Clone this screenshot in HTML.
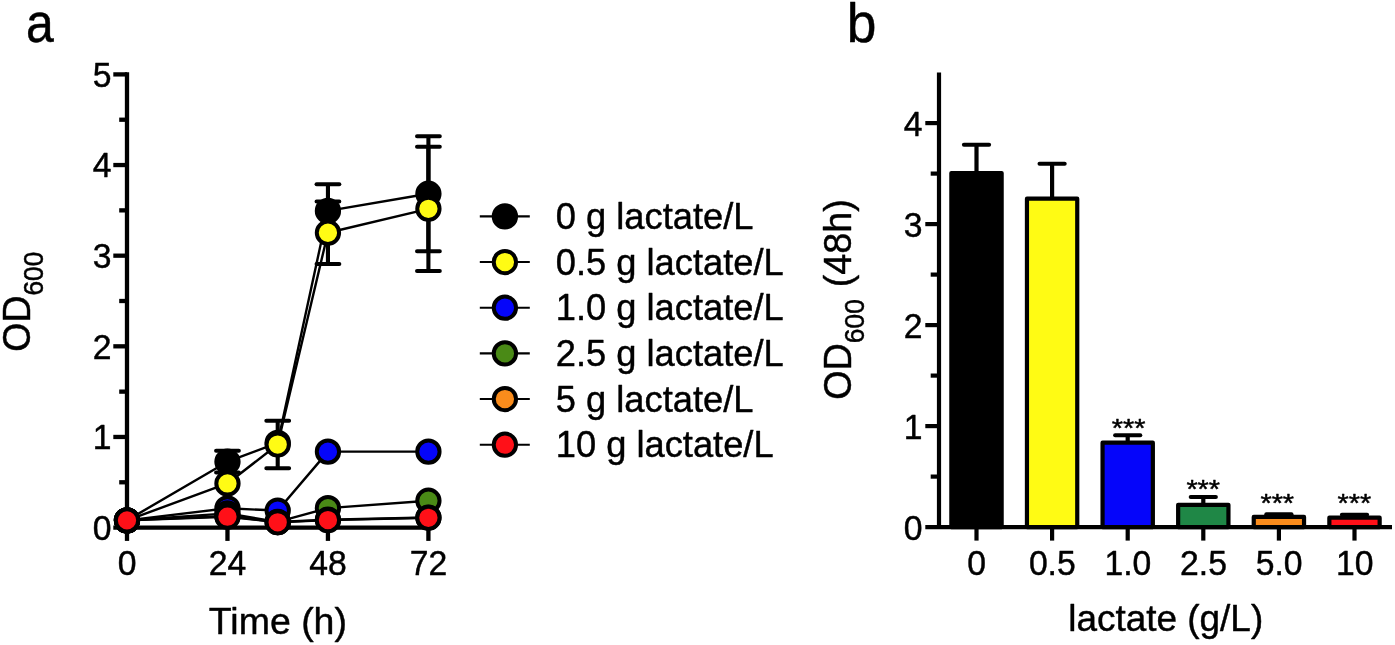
<!DOCTYPE html>
<html lang="en"><head><meta charset="utf-8"><title>Figure</title>
<style>html,body{margin:0;padding:0;background:#fff;}body{width:1395px;height:645px;overflow:hidden;}svg{display:block;}text{stroke:#000;stroke-width:.45px;stroke-linejoin:round;}</style>
</head><body>
<svg width="1395" height="645" viewBox="0 0 1395 645" font-family='"Liberation Sans", Arial, Helvetica, sans-serif' fill="#000">
<rect width="1395" height="645" fill="#fff"/>
<text transform="translate(25.90 42.20) scale(0.9 1)" font-size="55.5" text-anchor="start">a</text>
<text transform="translate(846.70 42.10) scale(0.96 1)" font-size="55.5" text-anchor="start">b</text>
<g stroke="#000" stroke-width="4.3" fill="none" stroke-linecap="butt">
<path d="M127.00 72.25V529.75"/>
<path d="M113.30 527.60H430.56"/>
<path d="M119.2 482.28H127.00"/>
<path d="M113.3 436.96H127.00"/>
<path d="M119.2 391.64H127.00"/>
<path d="M113.3 346.32H127.00"/>
<path d="M119.2 301.00H127.00"/>
<path d="M113.3 255.68H127.00"/>
<path d="M119.2 210.36H127.00"/>
<path d="M113.3 165.04H127.00"/>
<path d="M119.2 119.72H127.00"/>
<path d="M113.3 74.40H127.00"/>
<path d="M127.00 527.60V540.9"/>
<path d="M227.47 527.60V540.9"/>
<path d="M327.94 527.60V540.9"/>
<path d="M428.41 527.60V540.9"/>
</g>
<text transform="translate(111.40 540.00) scale(0.963 1)" font-size="35" text-anchor="end">0</text>
<text transform="translate(111.40 449.36) scale(0.963 1)" font-size="35" text-anchor="end">1</text>
<text transform="translate(111.40 358.72) scale(0.963 1)" font-size="35" text-anchor="end">2</text>
<text transform="translate(111.40 268.08) scale(0.963 1)" font-size="35" text-anchor="end">3</text>
<text transform="translate(111.40 177.44) scale(0.963 1)" font-size="35" text-anchor="end">4</text>
<text transform="translate(111.40 86.80) scale(0.963 1)" font-size="35" text-anchor="end">5</text>
<text transform="translate(127.10 574.70) scale(0.963 1)" font-size="35" text-anchor="middle">0</text>
<text transform="translate(227.57 574.70) scale(0.963 1)" font-size="35" text-anchor="middle">24</text>
<text transform="translate(328.04 574.70) scale(0.963 1)" font-size="35" text-anchor="middle">48</text>
<text transform="translate(428.51 574.70) scale(0.963 1)" font-size="35" text-anchor="middle">72</text>
<text transform="translate(277.90 633.80) scale(0.992 1)" font-size="37.8" text-anchor="middle">Time (h)</text>
<text transform="translate(29.90 301.70) rotate(-90) scale(0.962 1)" font-size="39" text-anchor="middle">OD<tspan font-size="27.3" dy="13">600</tspan></text>
<g stroke="#000">
<path d="M227.47 450.83V472.58" stroke-width="4.1" fill="none"/>
<path d="M216.07 450.83h22.8M216.07 472.58h22.8" stroke-width="4" stroke-linecap="round" fill="none"/>
<path d="M327.94 184.35V210.90" stroke-width="4.1" fill="none"/>
<path d="M316.54 184.35h22.8" stroke-width="4" stroke-linecap="round" fill="none"/>
<path d="M428.41 136.31V251.24" stroke-width="4.1" fill="none"/>
<path d="M417.01 136.31h22.8M417.01 251.24h22.8" stroke-width="4" stroke-linecap="round" fill="none"/>
<polyline points="127.00,520.35 227.47,461.70 277.71,442.85 327.94,210.90 428.41,193.77" fill="none" stroke-width="2.4" stroke-linejoin="round"/>
<circle cx="127.00" cy="520.35" r="11.15" fill="#000000" stroke-width="4.0"/>
<circle cx="227.47" cy="461.70" r="11.15" fill="#000000" stroke-width="4.0"/>
<circle cx="277.71" cy="442.85" r="11.15" fill="#000000" stroke-width="4.0"/>
<circle cx="327.94" cy="210.90" r="11.15" fill="#000000" stroke-width="4.0"/>
<circle cx="428.41" cy="193.77" r="11.15" fill="#000000" stroke-width="4.0"/>
</g>
<g stroke="#000">
<path d="M277.71 420.83V468.32" stroke-width="4.1" fill="none"/>
<path d="M266.31 420.83h22.8M266.31 468.32h22.8" stroke-width="4" stroke-linecap="round" fill="none"/>
<path d="M327.94 201.48V264.02" stroke-width="4.1" fill="none"/>
<path d="M316.54 201.48h22.8M316.54 264.02h22.8" stroke-width="4" stroke-linecap="round" fill="none"/>
<path d="M428.41 146.73V270.91" stroke-width="4.1" fill="none"/>
<path d="M417.01 146.73h22.8M417.01 270.91h22.8" stroke-width="4" stroke-linecap="round" fill="none"/>
<polyline points="127.00,520.35 227.47,483.46 277.71,444.57 327.94,232.75 428.41,208.82" fill="none" stroke-width="2.4" stroke-linejoin="round"/>
<circle cx="127.00" cy="520.35" r="11.15" fill="#FFFB14" stroke-width="4.0"/>
<circle cx="227.47" cy="483.46" r="11.15" fill="#FFFB14" stroke-width="4.0"/>
<circle cx="277.71" cy="444.57" r="11.15" fill="#FFFB14" stroke-width="4.0"/>
<circle cx="327.94" cy="232.75" r="11.15" fill="#FFFB14" stroke-width="4.0"/>
<circle cx="428.41" cy="208.82" r="11.15" fill="#FFFB14" stroke-width="4.0"/>
</g>
<g stroke="#000">
<polyline points="127.00,520.35 227.47,508.29 277.71,510.56 327.94,451.64 428.41,451.64" fill="none" stroke-width="2.4" stroke-linejoin="round"/>
<circle cx="127.00" cy="520.35" r="11.15" fill="#0505FA" stroke-width="4.0"/>
<circle cx="227.47" cy="508.29" r="11.15" fill="#0505FA" stroke-width="4.0"/>
<circle cx="277.71" cy="510.56" r="11.15" fill="#0505FA" stroke-width="4.0"/>
<circle cx="327.94" cy="451.64" r="11.15" fill="#0505FA" stroke-width="4.0"/>
<circle cx="428.41" cy="451.64" r="11.15" fill="#0505FA" stroke-width="4.0"/>
</g>
<g stroke="#000">
<polyline points="127.00,520.35 227.47,513.37 277.71,521.89 327.94,508.11 428.41,500.77" fill="none" stroke-width="2.4" stroke-linejoin="round"/>
<circle cx="127.00" cy="520.35" r="11.15" fill="#4A8A16" stroke-width="4.0"/>
<circle cx="227.47" cy="513.37" r="11.15" fill="#4A8A16" stroke-width="4.0"/>
<circle cx="277.71" cy="521.89" r="11.15" fill="#4A8A16" stroke-width="4.0"/>
<circle cx="327.94" cy="508.11" r="11.15" fill="#4A8A16" stroke-width="4.0"/>
<circle cx="428.41" cy="500.77" r="11.15" fill="#4A8A16" stroke-width="4.0"/>
</g>
<g stroke="#000">
<polyline points="127.00,520.35 227.47,516.00 277.71,522.07 327.94,519.71 428.41,517.54" fill="none" stroke-width="2.4" stroke-linejoin="round"/>
<circle cx="127.00" cy="520.35" r="11.15" fill="#FA8C1C" stroke-width="4.0"/>
<circle cx="227.47" cy="516.00" r="11.15" fill="#FA8C1C" stroke-width="4.0"/>
<circle cx="277.71" cy="522.07" r="11.15" fill="#FA8C1C" stroke-width="4.0"/>
<circle cx="327.94" cy="519.71" r="11.15" fill="#FA8C1C" stroke-width="4.0"/>
<circle cx="428.41" cy="517.54" r="11.15" fill="#FA8C1C" stroke-width="4.0"/>
</g>
<g stroke="#000">
<polyline points="127.00,520.35 227.47,516.72 277.71,522.29 327.94,520.08 428.41,517.81" fill="none" stroke-width="2.4" stroke-linejoin="round"/>
<circle cx="127.00" cy="520.35" r="11.15" fill="#FF1018" stroke-width="4.0"/>
<circle cx="227.47" cy="516.72" r="11.15" fill="#FF1018" stroke-width="4.0"/>
<circle cx="277.71" cy="522.29" r="11.15" fill="#FF1018" stroke-width="4.0"/>
<circle cx="327.94" cy="520.08" r="11.15" fill="#FF1018" stroke-width="4.0"/>
<circle cx="428.41" cy="517.81" r="11.15" fill="#FF1018" stroke-width="4.0"/>
</g>
<path d="M479.8 216.40H529.8" stroke="#000" stroke-width="2.1" fill="none"/>
<circle cx="504.9" cy="216.40" r="11.15" fill="#000000" stroke="#000" stroke-width="4.0"/>
<text transform="translate(555.80 229.00) scale(0.986 1)" font-size="36.8" text-anchor="start">0 g lactate/L</text>
<path d="M479.8 262.06H529.8" stroke="#000" stroke-width="2.1" fill="none"/>
<circle cx="504.9" cy="262.06" r="11.15" fill="#FFFB14" stroke="#000" stroke-width="4.0"/>
<text transform="translate(555.80 274.66) scale(0.986 1)" font-size="36.8" text-anchor="start">0.5 g lactate/L</text>
<path d="M479.8 307.72H529.8" stroke="#000" stroke-width="2.1" fill="none"/>
<circle cx="504.9" cy="307.72" r="11.15" fill="#0505FA" stroke="#000" stroke-width="4.0"/>
<text transform="translate(555.80 320.32) scale(0.986 1)" font-size="36.8" text-anchor="start">1.0 g lactate/L</text>
<path d="M479.8 353.38H529.8" stroke="#000" stroke-width="2.1" fill="none"/>
<circle cx="504.9" cy="353.38" r="11.15" fill="#4A8A16" stroke="#000" stroke-width="4.0"/>
<text transform="translate(555.80 365.98) scale(0.986 1)" font-size="36.8" text-anchor="start">2.5 g lactate/L</text>
<path d="M479.8 399.04H529.8" stroke="#000" stroke-width="2.1" fill="none"/>
<circle cx="504.9" cy="399.04" r="11.15" fill="#FA8C1C" stroke="#000" stroke-width="4.0"/>
<text transform="translate(555.80 411.64) scale(0.986 1)" font-size="36.8" text-anchor="start">5 g lactate/L</text>
<path d="M479.8 444.70H529.8" stroke="#000" stroke-width="2.1" fill="none"/>
<circle cx="504.9" cy="444.70" r="11.15" fill="#FF1018" stroke="#000" stroke-width="4.0"/>
<text transform="translate(555.80 457.30) scale(0.986 1)" font-size="36.8" text-anchor="start">10 g lactate/L</text>
<g stroke="#000" stroke-width="4.2" fill="none">
<path d="M939.0 72.60V527.10"/>
<path d="M925.3 527.1H1392"/>
<path d="M930.7 476.60H939.0"/>
<path d="M925.3 426.10H939.0"/>
<path d="M930.7 375.60H939.0"/>
<path d="M925.3 325.10H939.0"/>
<path d="M930.7 274.60H939.0"/>
<path d="M925.3 224.10H939.0"/>
<path d="M930.7 173.60H939.0"/>
<path d="M925.3 123.10H939.0"/>
<path d="M976.50 527.1V540.6"/>
<path d="M1052.10 527.1V540.6"/>
<path d="M1127.70 527.1V540.6"/>
<path d="M1203.30 527.1V540.6"/>
<path d="M1278.90 527.1V540.6"/>
<path d="M1354.50 527.1V540.6"/>
</g>
<text transform="translate(922.50 539.60) scale(0.963 1)" font-size="35" text-anchor="end">0</text>
<text transform="translate(922.50 438.60) scale(0.963 1)" font-size="35" text-anchor="end">1</text>
<text transform="translate(922.50 337.60) scale(0.963 1)" font-size="35" text-anchor="end">2</text>
<text transform="translate(922.50 236.60) scale(0.963 1)" font-size="35" text-anchor="end">3</text>
<text transform="translate(922.50 135.60) scale(0.963 1)" font-size="35" text-anchor="end">4</text>
<text transform="translate(976.70 574.70) scale(0.963 1)" font-size="35" text-anchor="middle">0</text>
<text transform="translate(1052.30 574.70) scale(0.963 1)" font-size="35" text-anchor="middle">0.5</text>
<text transform="translate(1127.90 574.70) scale(0.963 1)" font-size="35" text-anchor="middle">1.0</text>
<text transform="translate(1203.50 574.70) scale(0.963 1)" font-size="35" text-anchor="middle">2.5</text>
<text transform="translate(1279.10 574.70) scale(0.963 1)" font-size="35" text-anchor="middle">5.0</text>
<text transform="translate(1354.70 574.70) scale(0.963 1)" font-size="35" text-anchor="middle">10</text>
<text transform="translate(1165.70 631.30) scale(0.99 1)" font-size="37.3" text-anchor="middle">lactate (g/L)</text>
<text transform="translate(851.30 299.50) rotate(-90) scale(0.967 1)" font-size="39" text-anchor="middle">OD<tspan font-size="27.3" dy="13">600</tspan><tspan font-size="39" dy="-13" dx="1.5"> (48h)</tspan></text>
<g stroke="#000">
<path d="M976.50 144.71V172.99" stroke-width="4.2" fill="none"/>
<path d="M963.90 144.71h25.2" stroke-width="4" stroke-linecap="round" fill="none"/>
<rect x="951.35" y="172.99" width="50.3" height="354.11" fill="#000000" stroke-width="4.2" stroke-linejoin="round"/>
</g>
<g stroke="#000">
<path d="M1052.10 163.70V198.65" stroke-width="4.2" fill="none"/>
<path d="M1039.50 163.70h25.2" stroke-width="4" stroke-linecap="round" fill="none"/>
<rect x="1026.95" y="198.65" width="50.3" height="328.45" fill="#FFFB14" stroke-width="4.2" stroke-linejoin="round"/>
</g>
<g stroke="#000">
<path d="M1127.70 435.19V442.66" stroke-width="4.2" fill="none"/>
<path d="M1115.10 435.19h25.2" stroke-width="4" stroke-linecap="round" fill="none"/>
<rect x="1102.55" y="442.66" width="50.3" height="84.44" fill="#0505FA" stroke-width="4.2" stroke-linejoin="round"/>
</g>
<text transform="translate(1128.55 436.70) scale(1.13 1)" font-size="25.5" text-anchor="middle">***</text>
<g stroke="#000">
<path d="M1203.30 497.10V504.78" stroke-width="4.2" fill="none"/>
<path d="M1190.70 497.10h25.2" stroke-width="4" stroke-linecap="round" fill="none"/>
<rect x="1178.15" y="504.78" width="50.3" height="22.32" fill="#1F8746" stroke-width="4.2" stroke-linejoin="round"/>
</g>
<text transform="translate(1203.20 497.50) scale(1.13 1)" font-size="25.5" text-anchor="middle">***</text>
<g stroke="#000">
<path d="M1278.90 514.37V516.90" stroke-width="4.2" fill="none"/>
<path d="M1266.30 514.37h25.2" stroke-width="4" stroke-linecap="round" fill="none"/>
<rect x="1253.75" y="516.90" width="50.3" height="10.20" fill="#FA8C1C" stroke-width="4.2" stroke-linejoin="round"/>
</g>
<text transform="translate(1277.25 512.10) scale(1.13 1)" font-size="25.5" text-anchor="middle">***</text>
<g stroke="#000">
<path d="M1354.50 514.68V517.71" stroke-width="4.2" fill="none"/>
<path d="M1341.90 514.68h25.2" stroke-width="4" stroke-linecap="round" fill="none"/>
<rect x="1329.35" y="517.71" width="50.3" height="9.39" fill="#FF1018" stroke-width="4.2" stroke-linejoin="round"/>
</g>
<text transform="translate(1354.30 512.10) scale(1.13 1)" font-size="25.5" text-anchor="middle">***</text>
</svg>
</body></html>
